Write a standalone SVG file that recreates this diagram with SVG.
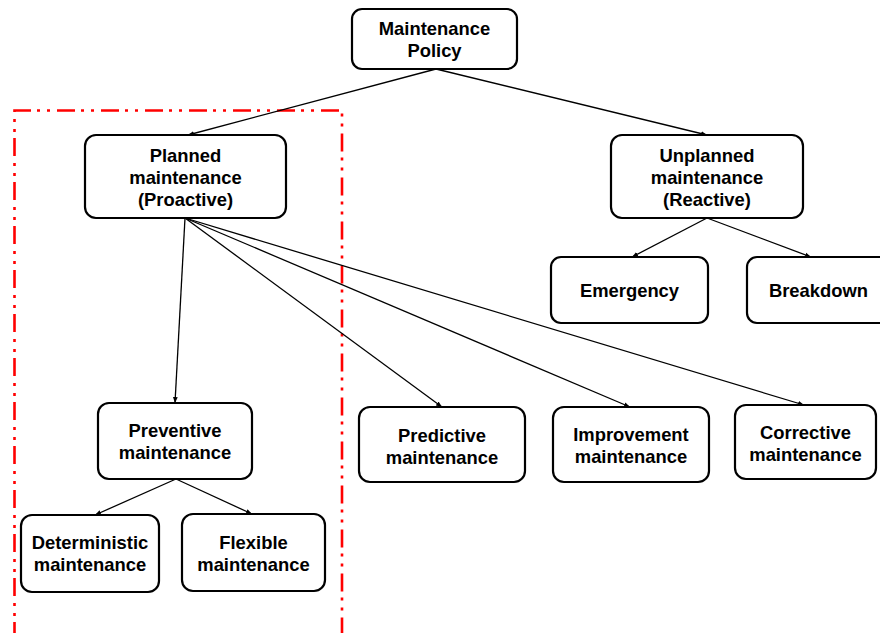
<svg xmlns="http://www.w3.org/2000/svg" width="880" height="633" viewBox="0 0 880 633">
<defs>
<style>
.box{fill:#fff;stroke:#000;stroke-width:2.2}
.t{font-family:"Liberation Sans",Arial,sans-serif;font-weight:bold;font-size:18.4px;text-anchor:middle;fill:#000}
.c{stroke:#000;stroke-width:1.3;fill:none}
</style>
<marker id="ah" viewBox="0 0 10 10" refX="10" refY="5" markerWidth="6" markerHeight="6" markerUnits="userSpaceOnUse" orient="auto">
<path d="M0,1 L10,5 L0,9 z" fill="#000"/>
</marker>
</defs>
<rect width="880" height="633" fill="#fff"/>
<path d="M14.5,640 V110.5 H342 V640" fill="none" stroke="#ff0000" stroke-width="2.6" stroke-dasharray="18 6 3 7 3 7"/>
<g id="connectors">
<line class="c" x1="436" y1="69" x2="188" y2="135" marker-end="url(#ah)"/>
<line class="c" x1="436" y1="69" x2="707" y2="135" marker-end="url(#ah)"/>
<line class="c" x1="707" y1="218" x2="632" y2="257" marker-end="url(#ah)"/>
<line class="c" x1="707" y1="218" x2="811" y2="257" marker-end="url(#ah)"/>
<line class="c" x1="185" y1="218" x2="175" y2="403" marker-end="url(#ah)"/>
<line class="c" x1="185" y1="218" x2="442" y2="407" marker-end="url(#ah)"/>
<line class="c" x1="185" y1="218" x2="630" y2="407" marker-end="url(#ah)"/>
<line class="c" x1="185" y1="218" x2="804" y2="405" marker-end="url(#ah)"/>
<line class="c" x1="176" y1="479" x2="95" y2="515" marker-end="url(#ah)"/>
<line class="c" x1="176" y1="479" x2="252" y2="514" marker-end="url(#ah)"/>
</g>
<g id="policy"><rect class="box" x="352" y="9" width="165" height="60" rx="10"/><text class="t" x="434.5" y="35">Maintenance</text><text class="t" x="434.5" y="57">Policy</text></g>
<g id="planned"><rect class="box" x="85" y="135" width="201" height="83" rx="11"/><text class="t" x="185.5" y="162">Planned</text><text class="t" x="185.5" y="184">maintenance</text><text class="t" x="185.5" y="206">(Proactive)</text></g>
<g id="unplanned"><rect class="box" x="611" y="135" width="192" height="83" rx="11"/><text class="t" x="707" y="162">Unplanned</text><text class="t" x="707" y="184">maintenance</text><text class="t" x="707" y="206">(Reactive)</text></g>
<g id="emergency"><rect class="box" x="551" y="257" width="157" height="66" rx="10"/><text class="t" x="629.5" y="297">Emergency</text></g>
<g id="breakdown"><rect class="box" x="747" y="257" width="143" height="66" rx="10"/><text class="t" x="818.5" y="297">Breakdown</text></g>
<g id="preventive"><rect class="box" x="98" y="403" width="154" height="76" rx="11"/><text class="t" x="175" y="437">Preventive</text><text class="t" x="175" y="459">maintenance</text></g>
<g id="deterministic"><rect class="box" x="21" y="515" width="138" height="77" rx="11"/><text class="t" x="90" y="549">Deterministic</text><text class="t" x="90" y="571">maintenance</text></g>
<g id="flexible"><rect class="box" x="182" y="514" width="143" height="77" rx="11"/><text class="t" x="253.5" y="549">Flexible</text><text class="t" x="253.5" y="571">maintenance</text></g>
<g id="predictive"><rect class="box" x="359" y="407" width="166" height="75" rx="11"/><text class="t" x="442" y="441.5">Predictive</text><text class="t" x="442" y="463.5">maintenance</text></g>
<g id="improvement"><rect class="box" x="553" y="407" width="156" height="75" rx="11"/><text class="t" x="631" y="441">Improvement</text><text class="t" x="631" y="463">maintenance</text></g>
<g id="corrective"><rect class="box" x="735" y="405" width="141" height="74" rx="11"/><text class="t" x="805.5" y="439">Corrective</text><text class="t" x="805.5" y="461">maintenance</text></g>
</svg>
